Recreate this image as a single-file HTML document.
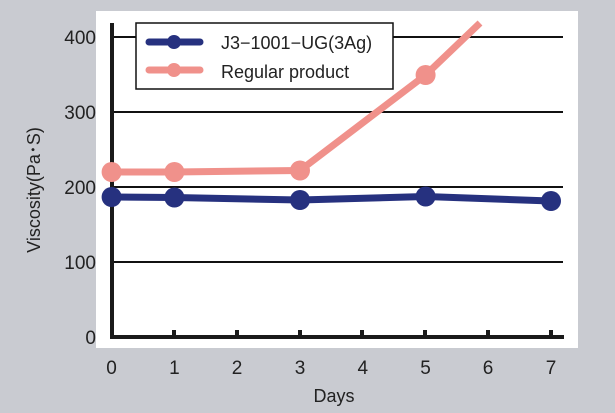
<!DOCTYPE html>
<html><head><style>
html,body{margin:0;padding:0;background:#c9cbd1;}
svg{display:block;font-family:"Liberation Sans",sans-serif;}
</style></head><body>
<svg width="615" height="413" viewBox="0 0 615 413">
<rect width="615" height="413" fill="#c9cbd1"/>
<rect x="96" y="11" width="482" height="337" fill="#fff"/>
<g stroke="#111" stroke-width="2">
<line x1="111" y1="37" x2="563" y2="37"/>
<line x1="111" y1="112" x2="563" y2="112"/>
<line x1="111" y1="187" x2="563" y2="187"/>
<line x1="111" y1="262" x2="563" y2="262"/>
</g>
<g stroke="#1a1a1a" stroke-width="4" fill="none">
<line x1="112" y1="23" x2="112" y2="339"/>
<line x1="110" y1="337" x2="564" y2="337"/>
<line x1="174" y1="330" x2="174" y2="337"/><line x1="237" y1="330" x2="237" y2="337"/>
<line x1="300" y1="330" x2="300" y2="337"/><line x1="362" y1="330" x2="362" y2="337"/>
<line x1="425" y1="330" x2="425" y2="337"/><line x1="488" y1="330" x2="488" y2="337"/>
<line x1="551" y1="330" x2="551" y2="337"/>
</g>
<polyline points="111.6,172 174.4,172 300,170.5 425.6,75 480,23" fill="none" stroke="#f0918b" stroke-width="7" stroke-linejoin="round"/>
<g fill="#f0918b"><circle cx="111.6" cy="172" r="10"/><circle cx="174.4" cy="172" r="10"/><circle cx="300" cy="170.5" r="10"/><circle cx="425.6" cy="75" r="10"/></g>
<polyline points="111.6,197 174.4,197.5 300,200 425.6,196.5 551,201" fill="none" stroke="#26317f" stroke-width="7" stroke-linejoin="round"/>
<g fill="#26317f"><circle cx="111.6" cy="197" r="10"/><circle cx="174.4" cy="197.5" r="10"/><circle cx="300" cy="200" r="10"/><circle cx="425.6" cy="196.5" r="10"/><circle cx="551" cy="201" r="10"/></g>
<rect x="136" y="23" width="257" height="66" fill="#fff" stroke="#111" stroke-width="1.5"/>
<line x1="149" y1="42" x2="200" y2="42" stroke="#26317f" stroke-width="7" stroke-linecap="round"/>
<circle cx="174" cy="42" r="7" fill="#26317f"/>
<line x1="149" y1="70" x2="200" y2="70" stroke="#f0918b" stroke-width="7" stroke-linecap="round"/>
<circle cx="174" cy="70" r="7" fill="#f0918b"/>
<g font-size="18" fill="#222">
<text x="221" y="49">J3−1001−UG(3Ag)</text>
<text x="221" y="78">Regular product</text>
</g>
<g font-size="19" fill="#222" text-anchor="end">
<text x="96" y="44">400</text><text x="96" y="119">300</text><text x="96" y="194">200</text>
<text x="96" y="269">100</text><text x="96" y="344">0</text>
</g>
<g font-size="19" fill="#222" text-anchor="middle">
<text x="111.6" y="374">0</text><text x="174.4" y="374">1</text><text x="237" y="374">2</text>
<text x="300" y="374">3</text><text x="362.8" y="374">4</text><text x="425.6" y="374">5</text>
<text x="488" y="374">6</text><text x="551" y="374">7</text>
<text x="334" y="402" font-size="18">Days</text>
</g>
<text transform="translate(40,190) rotate(-90)" font-size="18" fill="#222" text-anchor="middle">Viscosity(Pa･S)</text>
</svg>
</body></html>
